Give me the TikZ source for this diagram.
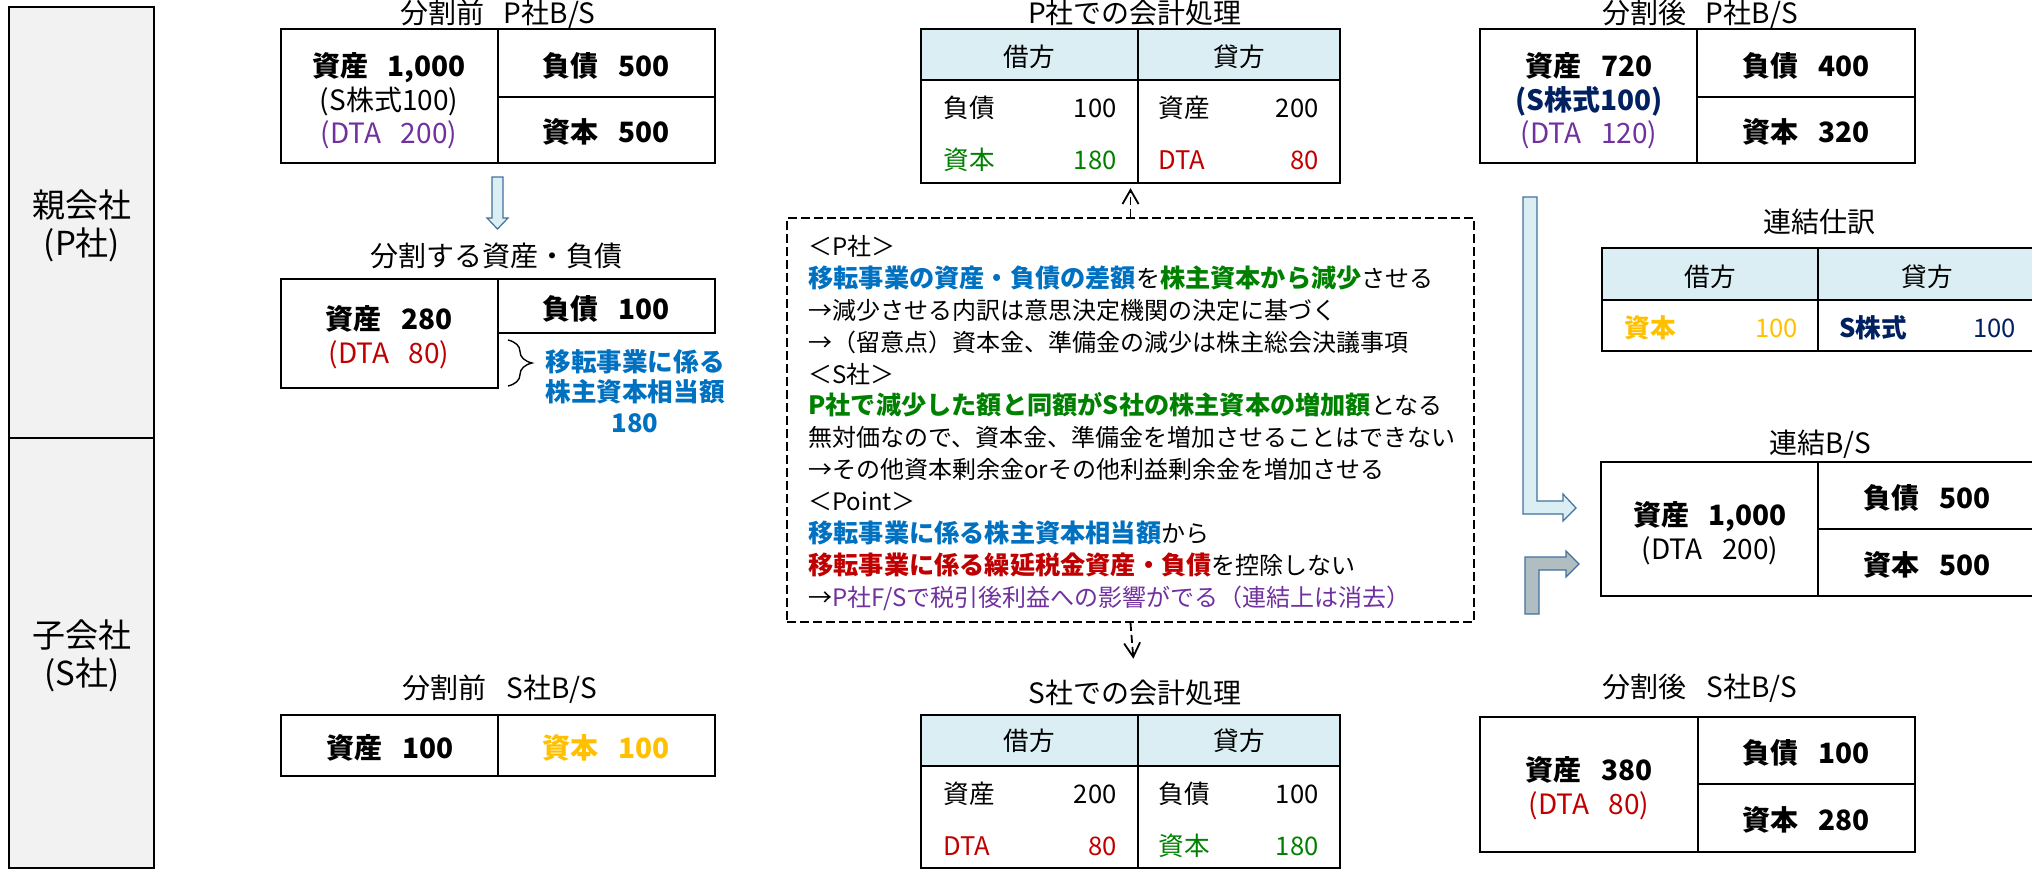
\documentclass[tikz,border=0pt]{standalone}
\usepackage{fontspec}
\setmainfont{Noto Sans CJK JP}
\usetikzlibrary{arrows.meta,decorations.pathreplacing}

\definecolor{hdr}{HTML}{DAEEF3}
\definecolor{side}{HTML}{F2F2F2}
\definecolor{cblue}{HTML}{0070C0}
\definecolor{cgreen}{HTML}{008000}
\definecolor{cred}{HTML}{C00000}
\definecolor{cpurple}{HTML}{7030A0}
\definecolor{corange}{HTML}{FFC000}
\definecolor{cnavy}{HTML}{002060}
\definecolor{arrline}{HTML}{41719C}
\definecolor{arrgray}{HTML}{B0BEC2}

\newcommand\gap{\hspace{0.7em}}
\newcommand\hl[2]{\textcolor{#1}{\fontsize{12.6}{15}\selectfont\bfseries #2}}

\begin{document}
\begin{tikzpicture}[line join=miter, x=0.5pt, y=-0.5pt,
    box/.style={draw, line width=1.2pt},
    sidebox/.style={draw, fill=side, line width=1.2pt},
    tabbox/.style={draw, line width=1.2pt, inner sep=0pt},
    notebox/.style={draw, line width=0.9pt, dash pattern=on 4.5pt off 2pt, inner sep=0pt},
    dashline/.style={line width=0.9pt, dash pattern=on 4pt off 2pt},
    ttl/.style={inner sep=0pt, font=\fontsize{14}{17}\selectfont, text height=11.5pt, text depth=1.5pt},
    bs/.style={inner sep=0pt, font=\fontsize{14}{17}\selectfont\bfseries, text height=11.5pt, text depth=1.5pt},
    sub/.style={inner sep=0pt, font=\fontsize{14}{17}\selectfont, text height=11.5pt, text depth=1.5pt},
    tb/.style={inner sep=0pt, font=\fontsize{12.8}{15}\selectfont, text height=10.5pt, text depth=1.5pt},
    ln/.style={anchor=west, inner sep=0pt, font=\fontsize{12}{15}\selectfont, text height=10pt, text depth=1.5pt},
    co/.style={inner sep=0pt, align=center, font=\fontsize{16.5}{19}\selectfont},
    blockarrow/.style={draw=arrline, line width=0.6pt, fill=hdr},
    grayarrow/.style={draw=arrline, line width=0.6pt, fill=arrgray},
    tip/.style={-{Straight Barb[length=7pt, width=8pt, line width=0.9pt]}}]

\useasboundingbox (0,0) rectangle (2032,869);

% companies
\draw[sidebox] (9,7) rectangle (154,438);
\draw[sidebox] (9,438) rectangle (154,868);
\node[co] (pco) at (82,226) {親会社\\(P社)};
\node[co] (sco) at (82,656) {子会社\\(S社)};

% before split, P
\node[ttl] (pbefore) at (498,13) {分割前\gap P社B/S};
\draw[box] (281,29) rectangle (715,163);
\draw[box] (498,29) -- (498,163) (498,97) -- (715,97);
\node[bs] (pba) at (389,66) {資産\gap 1,000};
\node[sub] (pbs) at (389,100) {(S株式100)};
\node[sub, text=cpurple] (pbd) at (389,133) {(DTA\gap 200)};
\node[bs] (pbl) at (606,66) {負債\gap 500};
\node[bs] (pbe) at (606,132) {資本\gap 500};

\draw[blockarrow] (492,177) -- (503,177) -- (503,218) -- (508,218) -- (497.5,229) -- (487,218) -- (492,218) -- cycle;

\node[ttl] (split) at (496,256) {分割する資産・負債};
\draw[box] (281,279) rectangle (498,388);
\draw[box] (498,279) rectangle (715,333);
\node[bs] (spa) at (389,319) {資産\gap 280};
\node[sub, text=cred] (spd) at (389,353) {(DTA\gap 80)};
\node[bs] (spl) at (606,309) {負債\gap 100};
\draw[line width=0.7pt, decorate, decoration={brace, amplitude=12pt, aspect=0.5}] (508,340) -- (508,386);
\node[inner sep=0pt, align=center, text=cblue, font=\fontsize{12.8}{15.3}\selectfont\bfseries] (amt) at (635,391) {移転事業に係る\\株主資本相当額\\180};

% before split, S
\node[ttl] (sbefore) at (500,688) {分割前\gap S社B/S};
\draw[box] (281,715) rectangle (715,776);
\draw[box] (498,715) -- (498,776);
\node[bs] (sba) at (390,748) {資産\gap 100};
\node[bs, text=corange] (sbe) at (606,748) {資本\gap 100};

% P entry
\node[ttl] (pjt) at (1135,13) {P社での会計処理};
\fill[hdr] (921,29) rectangle (1340,80);
\node[tabbox, minimum width=209.5pt, minimum height=77pt] (ptab) at (1130.5,106) {};
\draw[box] (921,80) -- (1340,80) (1138,29) -- (1138,183);
\node[tb] (pdr) at (1029,57) {借方};
\node[tb] (pcr) at (1239,57) {貸方};
\node[tb, anchor=west] (p11) at (943,108) {負債};
\node[tb, anchor=east] (p12) at (1117,108) {100};
\node[tb, anchor=west, text=cgreen] (p21) at (943,160) {資本};
\node[tb, anchor=east, text=cgreen] (p22) at (1117,160) {180};
\node[tb, anchor=west] (p13) at (1158,108) {資産};
\node[tb, anchor=east] (p14) at (1319,108) {200};
\node[tb, anchor=west, text=cred] (p23) at (1158,160) {DTA};
\node[tb, anchor=east, text=cred] (p24) at (1319,160) {80};

% note
\node[notebox, minimum width=343.5pt, minimum height=202pt] (note) at (1130.5,420) {};
\node[ln] (n1) at (808,247) {＜P社＞};
\node[ln] (n2) at (808,279) {\hl{cblue}{移転事業の資産・負債の差額}を\hl{cgreen}{株主資本から減少}させる};
\node[ln] (n3) at (808,311) {→減少させる内訳は意思決定機関の決定に基づく};
\node[ln] (n4) at (808,343) {→（留意点）資本金、準備金の減少は株主総会決議事項};
\node[ln] (n5) at (808,375) {＜S社＞};
\node[ln] (n6) at (808,406) {\hl{cgreen}{P社で減少した額と同額がS社の株主資本の増加額}となる};
\node[ln] (n7) at (808,438) {無対価なので、資本金、準備金を増加させることはできない};
\node[ln] (n8) at (808,470) {→その他資本剰余金orその他利益剰余金を増加させる};
\node[ln] (n9) at (808,502) {＜Point＞};
\node[ln] (n10) at (808,534) {\hl{cblue}{移転事業に係る株主資本相当額}から};
\node[ln] (n11) at (808,566) {\hl{cred}{移転事業に係る繰延税金資産・負債}を控除しない};
\node[ln] (n12) at (808,598) {→\textcolor{cpurple}{P社F/Sで税引後利益への影響がでる（連結上は消去）}};

% S entry
\node[ttl] (sjt) at (1135,693) {S社での会計処理};
\fill[hdr] (921,715) rectangle (1340,766);
\node[tabbox, minimum width=209.5pt, minimum height=76.5pt] (stab) at (1130.5,791.5) {};
\draw[box] (921,766) -- (1340,766) (1138,715) -- (1138,868);
\node[tb] (sdr) at (1029,741) {借方};
\node[tb] (scr) at (1239,741) {貸方};
\node[tb, anchor=west] (s11) at (943,794) {資産};
\node[tb, anchor=east] (s12) at (1117,794) {200};
\node[tb, anchor=west, text=cred] (s21) at (943,846) {DTA};
\node[tb, anchor=east, text=cred] (s22) at (1117,846) {80};
\node[tb, anchor=west] (s13) at (1158,794) {負債};
\node[tb, anchor=east] (s14) at (1319,794) {100};
\node[tb, anchor=west, text=cgreen] (s23) at (1158,846) {資本};
\node[tb, anchor=east, text=cgreen] (s24) at (1319,846) {180};

\draw[dashline, tip, shorten >=2pt] (note.north) -- (ptab.south);
\draw[dashline, tip, shorten >=10.5pt] (note.south) -- (sjt.north);

% after split, P
\node[ttl] (pafter) at (1700,13) {分割後\gap P社B/S};
\draw[box] (1480,29) rectangle (1915,163);
\draw[box] (1697,29) -- (1697,163) (1697,97) -- (1915,97);
\node[bs] (paa) at (1589,66) {資産\gap 720};
\node[bs, text=cnavy] (pas) at (1589,100) {(S株式100)};
\node[sub, text=cpurple] (pad) at (1589,133) {(DTA\gap 120)};
\node[bs] (pal) at (1806,66) {負債\gap 400};
\node[bs] (pae) at (1806,132) {資本\gap 320};

% consolidation entry
\node[ttl] (cjt) at (1819,222) {連結仕訳};
\fill[hdr] (1602,248) rectangle (2040,300);
\node[tabbox, minimum width=219pt, minimum height=51.5pt] (ctab) at (1821,299.5) {};
\draw[box] (1602,300) -- (2040,300) (1818,248) -- (1818,351);
\node[tb] (cdr) at (1710,277) {借方};
\node[tb] (ccr) at (1927,277) {貸方};
\node[tb, anchor=west, text=corange, font=\fontsize{12.8}{15}\selectfont\bfseries] (c11) at (1624,328) {資本};
\node[tb, anchor=east, text=corange] (c12) at (1798,328) {100};
\node[tb, anchor=west, text=cnavy, font=\fontsize{12.8}{15}\selectfont\bfseries] (c13) at (1839,328) {S株式};
\node[tb, anchor=east, text=cnavy] (c14) at (2016,328) {100};

% consolidated B/S
\node[ttl] (cbs) at (1820,443) {連結B/S};
\draw[box] (1601,462) rectangle (2040,596);
\draw[box] (1818,462) -- (1818,596) (1818,529) -- (2040,529);
\node[bs] (cba) at (1710,515) {資産\gap 1,000};
\node[sub] (cbd) at (1710,549) {(DTA\gap 200)};
\node[bs] (cbl) at (1927,498) {負債\gap 500};
\node[bs] (cbe) at (1927,565) {資本\gap 500};

\draw[blockarrow] (1523,197) -- (1537,197) -- (1537,501) -- (1563,501) -- (1563,494) -- (1576,508) -- (1563,521) -- (1563,514) -- (1523,514) -- cycle;
\draw[grayarrow] (1525,614) -- (1525,557) -- (1566,557) -- (1566,551) -- (1579,564) -- (1566,577) -- (1566,570) -- (1539,570) -- (1539,614) -- cycle;

% after split, S
\node[ttl] (safter) at (1700,687) {分割後\gap S社B/S};
\draw[box] (1480,717) rectangle (1915,852);
\draw[box] (1698,717) -- (1698,852) (1698,784) -- (1915,784);
\node[bs] (saa) at (1589,770) {資産\gap 380};
\node[sub, text=cred] (sad) at (1589,804) {(DTA\gap 80)};
\node[bs] (sal) at (1806,753) {負債\gap 100};
\node[bs] (sae) at (1806,820) {資本\gap 280};

\end{tikzpicture}
\end{document}
